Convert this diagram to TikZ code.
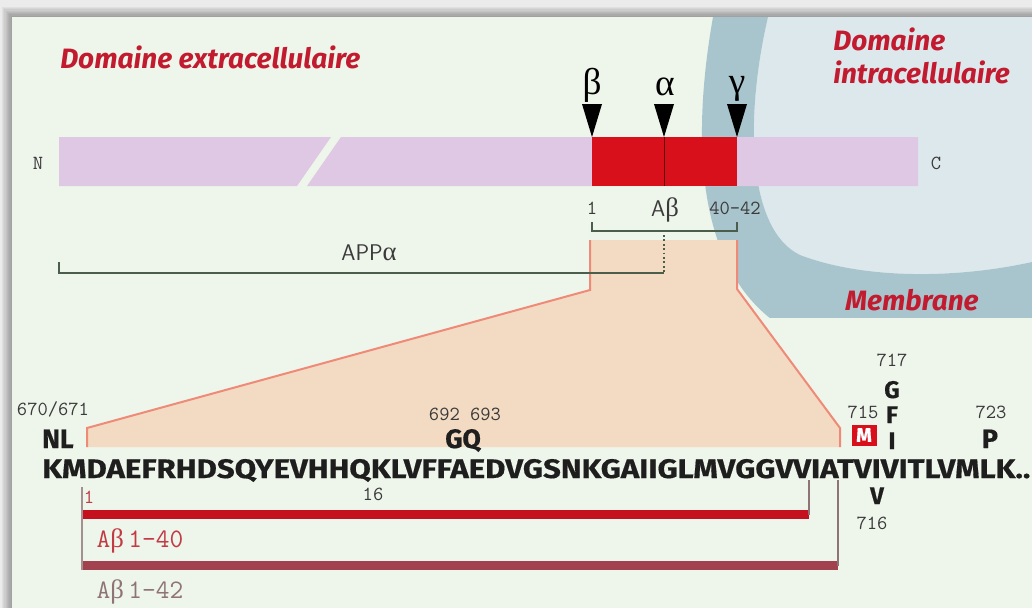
\documentclass[tikz,border=0pt]{standalone}
\usepackage{graphicx}
\usepackage{fontspec}
\newfontfamily\fira{Fira Sans}[BoldFeatures={FakeBold=0.5}]
\newfontfamily\firat{Fira Sans}
\newfontfamily\grk{Liberation Serif}
\definecolor{bg}{HTML}{EEF5EA}
\definecolor{lilac}{HTML}{DEC8E3}
\definecolor{abred}{HTML}{D7101B}
\definecolor{peach}{HTML}{F2DBC2}
\definecolor{salmon}{HTML}{F08A78}
\definecolor{memb}{HTML}{A8C5CD}
\definecolor{intra}{HTML}{DDE8EC}
\definecolor{titlered}{HTML}{C21A2E}
\definecolor{brk}{HTML}{4B5E4B}
\definecolor{lbl}{HTML}{3A3A3A}
\definecolor{bar40}{HTML}{C4111D}
\definecolor{bar42}{HTML}{A3424F}
\definecolor{txt40}{HTML}{C23A44}
\definecolor{txt42}{HTML}{8E7474}
\definecolor{seqc}{HTML}{1E1E1E}
\begin{document}
\begin{tikzpicture}[x=0.75pt,y=-0.75pt,
  small/.style={font=\ttfamily\fontsize{15}{15}\selectfont, text=lbl, inner sep=0pt},
  mut/.style={font=\fira\bfseries\fontsize{20}{20}\selectfont, text=seqc, inner sep=0pt},
  mutcol/.style={font=\fira\bfseries\fontsize{18}{18}\selectfont, text=seqc, inner sep=0pt},
  titl/.style={font=\firat\bfseries\itshape\fontsize{21}{21}\selectfont, text=titlered, inner sep=0pt},
  greek/.style={font=\grk\fontsize{28}{28}\selectfont, inner sep=0pt},
  sanslbl/.style={font=\sffamily\fontsize{17}{17}\selectfont, text=lbl, inner sep=0pt},
  abl/.style={font=\ttfamily\fontsize{20}{20}\selectfont, inner sep=0pt},
  brack/.style={draw=brk, line width=1.1pt},
  vline/.style={line width=1pt}
]
\useasboundingbox (0,0) rectangle (1032,608);
% frame and shadow
\fill[gray!16] (0,0) rectangle (1032,608);
\foreach \k in {0,...,8} {
  \fill[black, opacity=0.045] ({12-\k*1.3},{17-\k*1.3}) rectangle (1032,608);
}
\fill[bg] (12,17) rectangle (1032,608);
% intracellular domain and membrane
\begin{scope}
\clip (12,17) rectangle (1032,317);
\fill[intra] (768,17) -- (1032,17) -- (1032,262) .. controls (950,280) and (860,278) .. (800,255) .. controls (748,230) and (744,120) .. (768,17) -- cycle;
\fill[memb] (713,17) .. controls (693,130) and (693,262) .. (775,322) -- (1032,330) -- (1032,262) .. controls (950,280) and (860,278) .. (800,255) .. controls (748,230) and (744,120) .. (768,17) -- cycle;
\end{scope}
% titles
\node[titl, anchor=base west] (ext) at (60,68) {Domaine extracellulaire};
\node[titl, anchor=base west] (int1) at (833,50) {Domaine};
\node[titl, anchor=base west] (int2) at (833,83) {intracellulaire};
\node[titl, anchor=base] (mem) at (912,310) {Membrane};
% APP bar
\fill[lilac] (59,137) -- (331,137) -- (297,186) -- (59,186) -- cycle;
\fill[lilac] (341,137) -- (918,137) -- (918,186) -- (307,186) -- cycle;
\fill[abred] (592,137) rectangle (737,186);
\draw[black!55!abred, line width=0.6pt] (664,137) -- (664,186);
\node[small] (N) at (38,163) {N};
\node[small] (C) at (936,163) {C};
% secretases
\node[greek] (beta) at (592,85) {β};
\node[greek] (alpha) at (665,87) {α};
\node[greek] (gamma) at (737,89) {γ};
\fill[black] (592,137) -- ++(-10,-33) -- ++(20,0) -- cycle;
\fill[black] (664,137) -- ++(-10,-33) -- ++(20,0) -- cycle;
\fill[black] (737,137) -- ++(-10,-33) -- ++(20,0) -- cycle;
% zoom trapezoid
\fill[peach] (590,240) -- (737,240) -- (737,289) -- (840,428) -- (840,447) -- (87,447) -- (87,428) -- (590,290) -- cycle;
\draw[salmon, line width=1.5pt] (590,240) -- (590,290) -- (87,428) -- (87,447);
\draw[salmon, line width=1.5pt] (737,240) -- (737,289) -- (840,428) -- (840,447);
% brackets
\node[small] (one) at (592,208) {1};
\node[sanslbl] (ab) at (665,210) {A{\grk\fontsize{20}{20}\selectfont β}};
\node[small] (n4042) at (735,208) {40-42};
\draw[brack] (592,222) -- (592,231) -- (737,231) -- (737,222);
\draw[brack] (59,262) -- (59,273) -- (664,273);
\draw[brk, line width=1.3pt, dotted] (664,235) -- (664,273);
\node[sanslbl] (appa) at (369,253) {APP{\grk\fontsize{20}{20}\selectfont α}};
% sequence
\node[anchor=base west, inner sep=0pt, text=seqc] (seq) at (42,478) {\resizebox{741pt}{14.25pt}{\fira\bfseries KMDAEFRHDSQYEVHHQKLVFFAEDVGSNKGAIIGLMVGGVVIATVIVITLVMLK..}};
% mutations
\node[small] (n670) at (53,409) {670/671};
\node[mut, anchor=base west] (NL) at (42,448) {NL};
\node[small] (n692) at (465,414) {692 693};
\node[mut, anchor=base west] (GQ) at (445,448) {GQ};
\node[small] (n717) at (892,360) {717};
\node[mutcol, anchor=base] (G) at (892,398) {G};
\node[mutcol, anchor=base] (F) at (892,423) {F};
\node[mutcol, anchor=base] (I) at (892,449) {I};
\node[small] (n715) at (863,412) {715};
\node[fill=abred, text=white, font=\fira\bfseries\fontsize{15}{15}\selectfont, minimum width=18.75pt, minimum height=15.75pt, inner sep=0pt] (M) at (864,435) {M};
\node[small] (n723) at (991,412) {723};
\node[mut, anchor=base] (P) at (990,448) {P};
\node[mutcol, anchor=base] (V) at (877,504) {V};
\node[small] (n716) at (872,523) {716};
\node[small] (n16) at (373,494) {16};
\node[small, text=txt40] (one2) at (89,497) {1};
% A beta bars
\fill[bar40] (82,510) rectangle (809,519);
\fill[bar42] (82,561) rectangle (838,570);
\draw[vline, draw=txt42!80] (82,487) -- (82,570);
\draw[vline, draw=txt42] (809,480) -- (809,515);
\draw[vline, draw=txt42] (838,480) -- (838,566);
\node[abl, text=txt40] (l40) at (140,541) {A{\grk β}\,1-40};
\node[abl, text=txt42] (l42) at (140,592) {A{\grk β}\,1-42};
\end{tikzpicture}
\end{document}
